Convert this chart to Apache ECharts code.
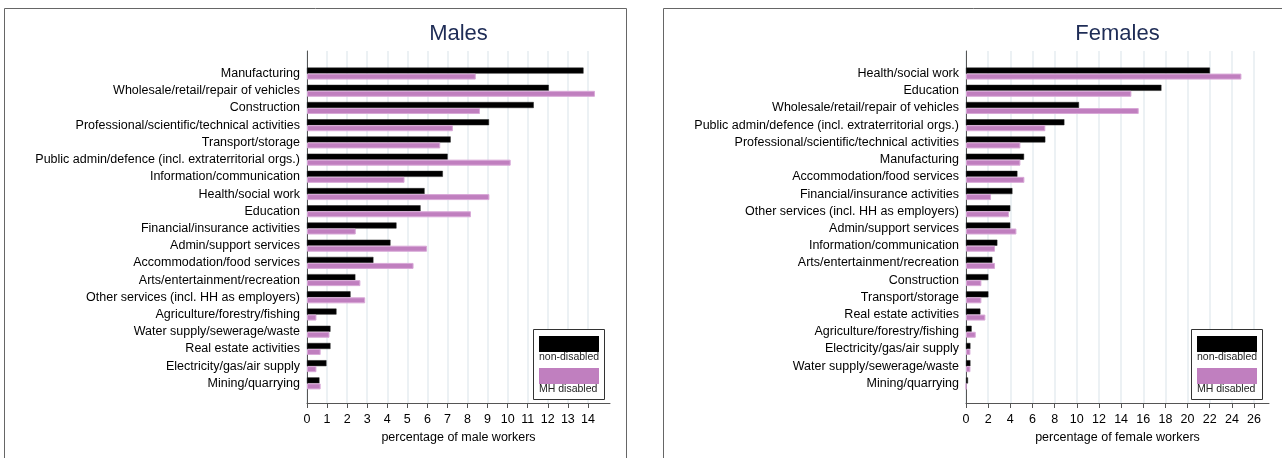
<!DOCTYPE html>
<html>
<head>
<meta charset="utf-8">
<script src="https://cdn.jsdelivr.net/npm/echarts@6/dist/echarts.min.js"></script>
<style>html,body{margin:0;padding:0;background:#fff;}#c{width:1282px;height:458px;}</style>
</head>
<body>
<div id="c"></div>
<script>
// ---- data ----
const maleCategories = ["Manufacturing","Wholesale/retail/repair of vehicles","Construction","Professional/scientific/technical activities","Transport/storage","Public admin/defence (incl. extraterritorial orgs.)","Information/communication","Health/social work","Education","Financial/insurance activities","Admin/support services","Accommodation/food services","Arts/entertainment/recreation","Other services (incl. HH as employers)","Agriculture/forestry/fishing","Water supply/sewerage/waste","Real estate activities","Electricity/gas/air supply","Mining/quarrying"];
const maleNonDisabled = [13.78,12.05,11.30,9.07,7.16,7.01,6.77,5.86,5.66,4.46,4.16,3.31,2.41,2.17,1.47,1.17,1.17,0.97,0.62];
const maleMHDisabled = [8.41,14.35,8.62,7.27,6.64,10.15,4.86,9.09,8.17,2.43,5.98,5.31,2.66,2.90,0.47,1.12,0.68,0.47,0.68];

const femaleCategories = ["Health/social work","Education","Wholesale/retail/repair of vehicles","Public admin/defence (incl. extraterritorial orgs.)","Professional/scientific/technical activities","Manufacturing","Accommodation/food services","Financial/insurance activities","Other services (incl. HH as employers)","Admin/support services","Information/communication","Arts/entertainment/recreation","Construction","Transport/storage","Real estate activities","Agriculture/forestry/fishing","Electricity/gas/air supply","Water supply/sewerage/waste","Mining/quarrying"];
const femaleNonDisabled = [22.02,17.64,10.20,8.88,7.16,5.24,4.64,4.19,4.00,4.00,2.83,2.38,2.02,2.02,1.30,0.51,0.40,0.40,0.18];
const femaleMHDisabled = [24.86,14.93,15.59,7.16,4.91,4.91,5.27,2.26,3.88,4.55,2.62,2.62,1.39,1.39,1.75,0.88,0.40,0.40,0];

const maleTicks = [0,1,2,3,4,5,6,7,8,9,10,11,12,13,14];
const femaleTicks = [0,2,4,6,8,10,12,14,16,18,20,22,24,26];

const titles = ["Males","Females"];
const axisNames = ["percentage of male workers","percentage of female workers"];
const legendNames = ["non-disabled","MH disabled"];

// ---- styling ----
const FONT = "'Liberation Sans', Arial, sans-serif";
const BLACK = '#000000';
const PINK = '#c07fbf';
const GRIDC = '#e6edf0';
const AXC = '#555555';

const panels = [
  {left:307, width:303, max:15.1, ticks:maleTicks, cats:maleCategories, a:maleNonDisabled, b:maleMHDisabled, title:titles[0], name:axisNames[0], lx:533.5, rx:539},
  {left:966, width:303, max:27.35, ticks:femaleTicks, cats:femaleCategories, a:femaleNonDisabled, b:femaleMHDisabled, title:titles[1], name:axisNames[1], lx:1191.5, rx:1197}
];

const grid=[], xAxis=[], yAxis=[], series=[], graphic=[];
panels.forEach((p,i)=>{
  const interval = p.ticks[1]-p.ticks[0];
  // frame grid
  grid.push({left:p.left, top:51, width:p.width, height:352});
  xAxis.push({type:'value', gridIndex:2*i, min:p.ticks[0], max:p.max, interval:interval,
    axisLine:{show:true, lineStyle:{color:AXC, width:1}},
    axisTick:{show:true, length:5, customValues:p.ticks, lineStyle:{color:AXC}},
    axisLabel:{show:true, customValues:p.ticks, color:'#000', fontSize:12.5, fontFamily:FONT, margin:10},
    splitLine:{show:true, lineStyle:{color:GRIDC, width:1.5}},
    name:p.name, nameLocation:'middle', nameGap:24,
    nameTextStyle:{color:'#000', fontSize:12.5, fontFamily:FONT}});
  yAxis.push({type:'value', gridIndex:2*i, min:0, max:1,
    axisLine:{show:true, onZero:false, lineStyle:{color:AXC, width:1}},
    axisTick:{show:false}, axisLabel:{show:false}, splitLine:{show:false}});
  // bar grid
  grid.push({left:p.left, top:65, width:p.width, height:327});
  xAxis.push({type:'value', gridIndex:2*i+1, min:p.ticks[0], max:p.max, show:false, splitLine:{show:false}});
  yAxis.push({type:'category', gridIndex:2*i+1, data:p.cats, inverse:true,
    axisLine:{show:false}, axisTick:{show:false}, splitLine:{show:false},
    axisLabel:{color:'#000', fontSize:12.5, fontFamily:FONT, margin:7}});
  series.push({type:'bar', name:legendNames[0], xAxisIndex:2*i+1, yAxisIndex:2*i+1, data:p.a,
    barWidth:6, barGap:'0%', itemStyle:{color:BLACK, borderColor:'#222', borderWidth:0.5}, silent:true});
  series.push({type:'bar', name:legendNames[1], xAxisIndex:2*i+1, yAxisIndex:2*i+1, data:p.b,
    barWidth:6, barGap:'0%', itemStyle:{color:PINK, borderColor:'#d8a8d7', borderWidth:1}, silent:true});
  // title
  graphic.push({type:'text', x:p.left+p.width/2, y:34, style:{text:p.title, fill:'#1e2c56', font:'22px '+FONT, textAlign:'center', textVerticalAlign:'middle'}});
  // legend
  graphic.push({type:'rect', shape:{x:p.lx, y:329.5, width:71, height:70}, style:{fill:'#fff', stroke:'#333', lineWidth:1}, z:10});
  graphic.push({type:'rect', shape:{x:p.rx, y:336, width:60, height:16}, style:{fill:BLACK}, z:11});
  graphic.push({type:'text', x:p.rx, y:357.5, style:{text:legendNames[0], fill:'#222', font:'10.5px '+FONT, textVerticalAlign:'middle'}, z:11});
  graphic.push({type:'rect', shape:{x:p.rx, y:368, width:60, height:16}, style:{fill:PINK}, z:11});
  graphic.push({type:'text', x:p.rx, y:389.5, style:{text:legendNames[1], fill:'#222', font:'10.5px '+FONT, textVerticalAlign:'middle'}, z:11});
});
// panel borders
graphic.push({type:'rect', shape:{x:4.5, y:8.5, width:622, height:520}, style:{fill:'none', stroke:'#666', lineWidth:1}, z:1});
graphic.push({type:'rect', shape:{x:663.5, y:8.5, width:700, height:520}, style:{fill:'none', stroke:'#666', lineWidth:1}, z:1});

const chart = echarts.init(document.getElementById('c'), null, {renderer:'canvas'});
chart.setOption({animation:false, backgroundColor:'#fff', grid, xAxis, yAxis, series, graphic});
</script>
</body>
</html>
